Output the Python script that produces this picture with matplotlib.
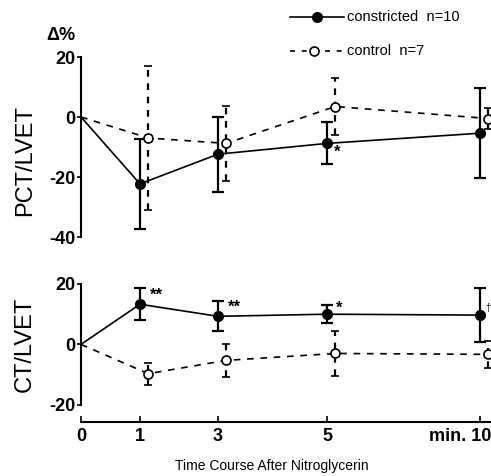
# -*- coding: utf-8 -*-

import numpy as np
import matplotlib.pyplot as plt
import matplotlib.transforms as mtransforms

plt.rcParams['font.family'] = ['Liberation Sans Narrow', 'Liberation Sans', 'DejaVu Sans']

# time points (min) and where they sit along the drawn axis
times = ['0', '1', '3', '5', 'min. 10']
xpos = np.array([0, 1.0, 2.32, 4.17, 6.76])
shift = 0.14  # control points drawn a bit to the right

# PCT/LVET, delta %
pct_con = [0, -22.3, -12.4, -8.8, -5.4]
pct_con_err = [0, 15, 12.5, 7, 15]
pct_ctl = [0, -7, -8.8, 3.5, -0.5]
pct_ctl_err = [0, 24, 12.5, 9.5, 3.5]

# CT/LVET, delta %
ct_con = [0, 13.3, 9.3, 10, 9.7]
ct_con_err = [0, 5.3, 5, 3, 9]
ct_ctl = [0, -9.7, -5.3, -3, -3.3]
ct_ctl_err = [0, 3.7, 5.5, 7.5, 4.5]

fig = plt.figure(figsize=(4.91, 4.76), dpi=100)
ax1 = fig.add_axes([81/491, 1-237/476, 410/491, 180/476])
ax2 = fig.add_axes([81/491, 1-422/476, 410/491, 138/476])

xctl = xpos + np.array([0, 1, 1, 1, 1]) * shift

def draw(ax, con, con_err, ctl, ctl_err):
    ax.plot(xpos, con, 'k-', lw=1.2, clip_on=False)
    ax.errorbar(xpos[1:], con[1:], yerr=con_err[1:], fmt='o', color='k',
                ms=7, elinewidth=1.6, capsize=4, capthick=1.6, clip_on=False)
    ax.plot(xctl, ctl, 'k--', lw=1.2, dashes=(4, 4), clip_on=False)
    eb = ax.errorbar(xctl[1:], ctl[1:], yerr=ctl_err[1:], fmt='o', color='k',
                     mfc='white', ms=6.5, mew=1.2, elinewidth=1.6, capsize=3,
                     capthick=2, clip_on=False)
    eb[2][0].set_linestyle((0, (3, 3)))
    for s in ['top', 'right', 'bottom']:
        ax.spines[s].set_visible(False)
    ax.spines['left'].set_linewidth(1.5)
    ax.set_xlim(0, 410/59)
    ax.tick_params(axis='y', direction='out', length=3, width=1.2,
                   labelsize=13, pad=1)

draw(ax1, pct_con, pct_con_err, pct_ctl, pct_ctl_err)
ax1.set_ylim(-40, 20)
ax1.set_yticks([20, 0, -20, -40])
ax1.set_yticklabels(['20', '0', '-20', '-40'], fontweight='bold')
ax1.set_xticks([])
ax1.text(xpos[3] + 0.12, pct_con[3] - 4.5, '*', fontsize=12, fontweight='bold')

draw(ax2, ct_con, ct_con_err, ct_ctl, ct_ctl_err)
ax2.set_ylim(-25.7, 20)
ax2.spines['left'].set_bounds(-20, 20)
ax2.spines['bottom'].set_visible(True)
ax2.spines['bottom'].set_linewidth(1.5)
ax2.set_yticks([20, 0, -20])
ax2.set_yticklabels(['20', '0', '-20'], fontweight='bold')
ax2.set_xticks(xpos)
ax2.set_xticklabels(times, fontsize=13, fontweight='bold')
ax2.tick_params(axis='x', direction='in', length=4, width=1.2, pad=4)
labs = ax2.get_xticklabels()
labs[-1].set_ha('right')
labs[-1].set_transform(labs[-1].get_transform() +
                       mtransforms.ScaledTranslation(0.12, 0, fig.dpi_scale_trans))

ax2.text(xpos[1] + 0.17, ct_con[1] + 1.5, '**', fontsize=12, fontweight='bold')
ax2.text(xpos[2] + 0.17, ct_con[2] + 1.5, '**', fontsize=12, fontweight='bold')
ax2.text(xpos[3] + 0.15, ct_con[3] + 0.5, '*', fontsize=12, fontweight='bold')
ax2.text(xpos[4] + 0.09, ct_con[4] + 1.5, '\u2020', fontsize=7)

fig.text(25/491, 1-161/476, 'PCT/LVET', rotation=90, fontsize=17,
         ha='center', va='center')
fig.text(25/491, 1-344/476, 'CT/LVET', rotation=90, fontsize=17,
         ha='center', va='center')
fig.text(61/491, 1-35/476, '\u0394%', fontsize=13, fontweight='bold',
         ha='center', va='center')
fig.text(272/491, 1-466/476, 'Time Course After Nitroglycerin', fontsize=10,
         ha='center', va='center')

# legend
lx = fig.add_axes([0, 0, 1, 1], facecolor='none')
lx.set_xlim(0, 491)
lx.set_ylim(476, 0)
lx.axis('off')
lx.plot([290, 344], [17, 17], 'k-', lw=1.2)
lx.plot([317], [17], 'ko', ms=7)
lx.plot([290, 344], [51, 51], 'k--', lw=1.2, dashes=(3, 4))
lx.plot([314], [51], 'o', color='k', mfc='white', ms=6.5, mew=1.2)
lx.text(347, 17, 'constricted  n=10', fontsize=10.5, va='center')
lx.text(347, 51, 'control  n=7', fontsize=10.5, va='center')

fig.savefig('out.png', dpi=100)
